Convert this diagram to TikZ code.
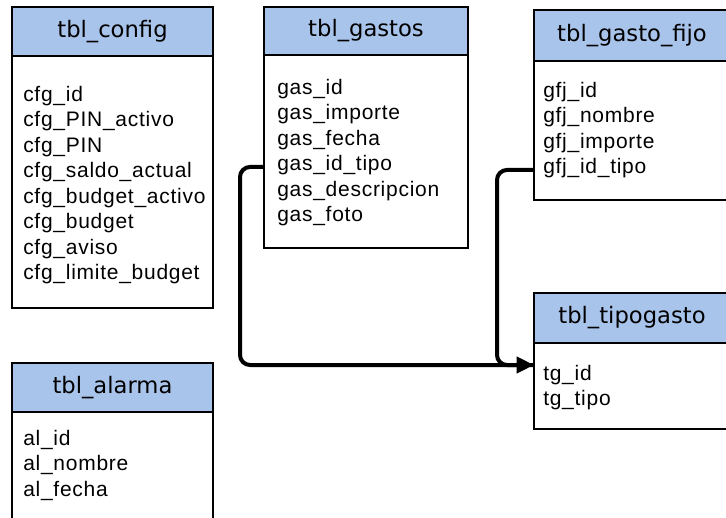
\documentclass[tikz,border=0pt]{standalone}
\usepackage{fontspec}
\setmainfont{Liberation Sans}[LetterSpace=3.5]
\newfontfamily\headfont{DejaVu Sans}
\usetikzlibrary{arrows.meta,calc}
\definecolor{headblue}{RGB}{169,196,235}
\tikzset{
  tblhead/.style={draw, line width=2.2pt, fill=headblue, anchor=north west,
    outer sep=0pt, inner sep=0pt, font=\headfont\fontsize{17}{20}\selectfont},
  tblbody/.style={draw, line width=2.2pt, fill=white, anchor=north west,
    outer sep=0pt, inner sep=0pt},
  field/.style={anchor=base west, inner sep=0pt, font=\fontsize{15.75}{19}\selectfont},
  fk/.style={line width=3pt, rounded corners=7.5pt}
}
\begin{document}
\begin{tikzpicture}[x=0.75pt, y=-0.75pt]
  \useasboundingbox (0,0) rectangle (726,518);

  % tbl_config
  \node[tblhead, minimum width=150.75pt, minimum height=36.75pt] (cfghead) at (12,7) {tbl\_config};
  \node[tblbody, minimum width=150.75pt, minimum height=189pt] (cfgbody) at (cfghead.south west) {};
  \foreach \f [count=\i from 0] in {cfg\_id, cfg\_PIN\_activo, cfg\_PIN, cfg\_saldo\_actual,
      cfg\_budget\_activo, cfg\_budget, cfg\_aviso, cfg\_limite\_budget}
    \node[field] (cfg\i) at (23,{101+25.5*\i}) {\f};

  % tbl_gastos
  \node[tblhead, minimum width=153pt, minimum height=36pt] (gashead) at (264,7) {tbl\_gastos};
  \node[tblbody, minimum width=153pt, minimum height=144.75pt] (gasbody) at (gashead.south west) {};
  \foreach \f [count=\i from 0] in {gas\_id, gas\_importe, gas\_fecha, gas\_id\_tipo,
      gas\_descripcion, gas\_foto}
    \node[field] (gas\i) at (277,{94+25.5*\i}) {\f};

  % tbl_gasto_fijo
  \node[tblhead, minimum width=147pt, minimum height=38.25pt] (gfjhead) at (534,10) {tbl\_gasto\_fijo};
  \node[tblbody, minimum width=147pt, minimum height=104.25pt] (gfjbody) at (gfjhead.south west) {};
  \foreach \f [count=\i from 0] in {gfj\_id, gfj\_nombre, gfj\_importe, gfj\_id\_tipo}
    \node[field] (gfj\i) at (543,{97+25.5*\i}) {\f};

  % tbl_tipogasto
  \node[tblhead, minimum width=147pt, minimum height=37.5pt] (tghead) at (534,293) {tbl\_tipogasto};
  \node[tblbody, minimum width=147pt, minimum height=64.5pt] (tgbody) at (tghead.south west) {};
  \foreach \f [count=\i from 0] in {tg\_id, tg\_tipo}
    \node[field] (tg\i) at (543,{380+25.5*\i}) {\f};

  % tbl_alarma
  \node[tblhead, minimum width=150.75pt, minimum height=36.75pt] (alhead) at (12,363) {tbl\_alarma};
  \node[tblbody, minimum width=150.75pt, minimum height=96pt] (albody) at (alhead.south west) {};
  \foreach \f [count=\i from 0] in {al\_id, al\_nombre, al\_fecha}
    \node[field] (al\i) at (23,{445+25.5*\i}) {\f};

  % foreign keys to tbl_tipogasto
  \draw[fk] (gfjbody.west |- gfj3.mid) -- ++(-37,0) |- ($(tgbody.north west)+(0,22)$);
  \draw[fk, -{Triangle[length=13pt,width=12pt]}] (gasbody.west |- gas3.mid) -- ++(-24,0)
    |- ($(tgbody.north west)+(0,22)$);
\end{tikzpicture}
\end{document}
